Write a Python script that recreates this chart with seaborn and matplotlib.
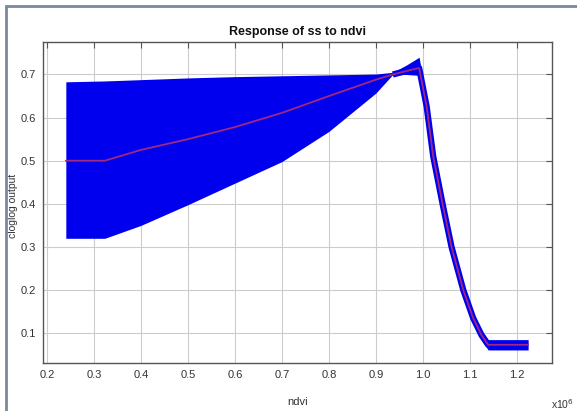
import numpy as np
import pandas as pd
import seaborn as sns
import matplotlib
matplotlib.use("Agg")
import matplotlib.pyplot as plt
from matplotlib.patches import Rectangle

# ---- data ----
ndvi = [0.240, 0.323, 0.40, 0.50, 0.60, 0.70, 0.80, 0.90, 0.936, 0.965, 0.992,
        1.008, 1.022, 1.043, 1.061, 1.086, 1.107, 1.125, 1.139, 1.224]
mean_out = [0.500, 0.500, 0.525, 0.550, 0.578, 0.611, 0.650, 0.688, 0.700, 0.708, 0.715,
            0.626, 0.510, 0.394, 0.300, 0.200, 0.135, 0.095, 0.073, 0.073]
upper_out = [0.683, 0.685, 0.688, 0.692, 0.695, 0.697, 0.699, 0.701, 0.705, 0.722, 0.740,
             0.638, 0.522, 0.406, 0.312, 0.212, 0.147, 0.107, 0.085, 0.085]
lower_out = [0.320, 0.320, 0.350, 0.398, 0.448, 0.498, 0.568, 0.657, 0.700, 0.700, 0.698,
             0.614, 0.498, 0.382, 0.288, 0.188, 0.123, 0.083, 0.061, 0.061]
x_ticks = [0.2, 0.3, 0.4, 0.5, 0.6, 0.7, 0.8, 0.9, 1.0, 1.1, 1.2]
y_ticks = [0.1, 0.2, 0.3, 0.4, 0.5, 0.6, 0.7]
title = "Response of ss to ndvi"
x_label = "ndvi"
y_label = "cloglog output"

df = pd.DataFrame({"ndvi": ndvi, "mean": mean_out, "upper": upper_out, "lower": lower_out})

sns.set_theme(style="white")
plt.rcParams["font.family"] = ["Liberation Sans", "DejaVu Sans"]

fig = plt.figure(figsize=(5.77, 4.11), dpi=100)
ax = fig.add_axes([0.075, 0.116, 0.881, 0.7825])

band_color = "#0000ee"
ax.fill_between(df["ndvi"], df["lower"], df["upper"], color=band_color, linewidth=0, zorder=2)
drop = df[df["ndvi"] >= 0.93]
sns.lineplot(data=drop, x="ndvi", y="mean", ax=ax, color=band_color, linewidth=4.5,
             solid_capstyle="butt", zorder=3, sort=False)
sns.lineplot(data=df, x="ndvi", y="mean", ax=ax, color="#a0287f", linewidth=1.3,
             zorder=4, sort=False)

ax.set_xlim(0.192, 1.274)
ax.set_ylim(0.030, 0.776)
ax.set_xticks(x_ticks)
ax.set_xticklabels([f"{t:.1f}" for t in x_ticks])
ax.set_yticks(y_ticks)
ax.set_yticklabels([f"{t:.1f}" for t in y_ticks])
ax.grid(True, color="#cccccc", linewidth=0.8, zorder=0)
ax.set_axisbelow(True)
for s in ax.spines.values():
    s.set_visible(True)
    s.set_color("#555555")
    s.set_linewidth(1.0)
ax.tick_params(direction="in", top=True, right=True, length=4, width=0.8,
               colors="#555555", labelcolor="#333333", labelsize=8, pad=5)

ax.set_title(title, fontsize=9, fontweight="bold", pad=5, color="#111111")
ax.set_xlabel(x_label, fontsize=8, color="#333333", labelpad=12)
ax.set_ylabel(y_label, fontsize=7.5, color="#333333")
ax.yaxis.set_label_coords(-0.050, 0.49)

fig.text(0.975, 0.018, r"x10$^{6}$", fontsize=7.5, color="#333333", ha="center", va="center")

# figure frame (screenshot border)
fig.patches.append(Rectangle((6 / 577, -0.05), 1.2, 1 - 6 / 411 + 0.05,
                             transform=fig.transFigure, fill=False,
                             edgecolor="#7a88a0", linewidth=2.0))

fig.savefig("out.png", dpi=100)
